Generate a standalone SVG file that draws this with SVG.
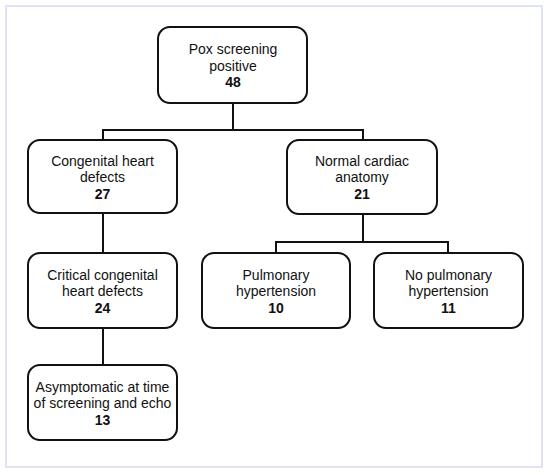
<svg xmlns="http://www.w3.org/2000/svg" width="550" height="476" viewBox="0 0 550 476">
<style>
.box{fill:#fff;stroke:#111;stroke-width:2}
.t{font-family:"Liberation Sans",Arial,sans-serif;font-size:14px;fill:#111;text-anchor:middle}
.b{font-weight:bold}
.c{fill:none;stroke:#111;stroke-width:2}
</style>
<rect x="0" y="0" width="550" height="476" fill="#fff"/>
<rect x="6" y="6" width="536" height="461" fill="#fff" stroke="#dfe3f5" stroke-width="2"/>
<g id="connectors">
<path class="c" d="M233 103V130M103 140V130H363V140"/>
<path class="c" d="M103 213V253"/>
<path class="c" d="M363 214V242M276 253V242H448V253"/>
<path class="c" d="M103 328V365"/>
</g>
<g id="n1"><rect class="box" x="158" y="27" width="149" height="76" rx="12"/>
<text class="t" x="233" y="54">Pox screening</text><text class="t" x="233" y="70.5">positive</text><text class="t b" x="233" y="87">48</text></g>
<g id="n2"><rect class="box" x="28" y="140" width="149" height="73" rx="12"/>
<text class="t" x="102.5" y="165.5">Congenital heart</text><text class="t" x="102.5" y="182">defects</text><text class="t b" x="102.5" y="198.5">27</text></g>
<g id="n3"><rect class="box" x="287" y="140" width="150" height="74" rx="12"/>
<text class="t" x="362" y="165.5">Normal cardiac</text><text class="t" x="362" y="182">anatomy</text><text class="t b" x="362" y="198.5">21</text></g>
<g id="n4"><rect class="box" x="28" y="253" width="149" height="75" rx="12"/>
<text class="t" x="102.5" y="279.5">Critical congenital</text><text class="t" x="102.5" y="296">heart defects</text><text class="t b" x="102.5" y="312.5">24</text></g>
<g id="n5"><rect class="box" x="202" y="253" width="148" height="75" rx="12"/>
<text class="t" x="276" y="279.5">Pulmonary</text><text class="t" x="276" y="296">hypertension</text><text class="t b" x="276" y="312.5">10</text></g>
<g id="n6"><rect class="box" x="374" y="253" width="149" height="75" rx="12"/>
<text class="t" x="448.5" y="279.5">No pulmonary</text><text class="t" x="448.5" y="296">hypertension</text><text class="t b" x="448.5" y="312.5">11</text></g>
<g id="n7"><rect class="box" x="28" y="365" width="149" height="75" rx="12"/>
<text class="t" x="102.5" y="391.5">Asymptomatic at time</text><text class="t" x="102.5" y="408">of screening and echo</text><text class="t b" x="102.5" y="424.5">13</text></g>
</svg>
